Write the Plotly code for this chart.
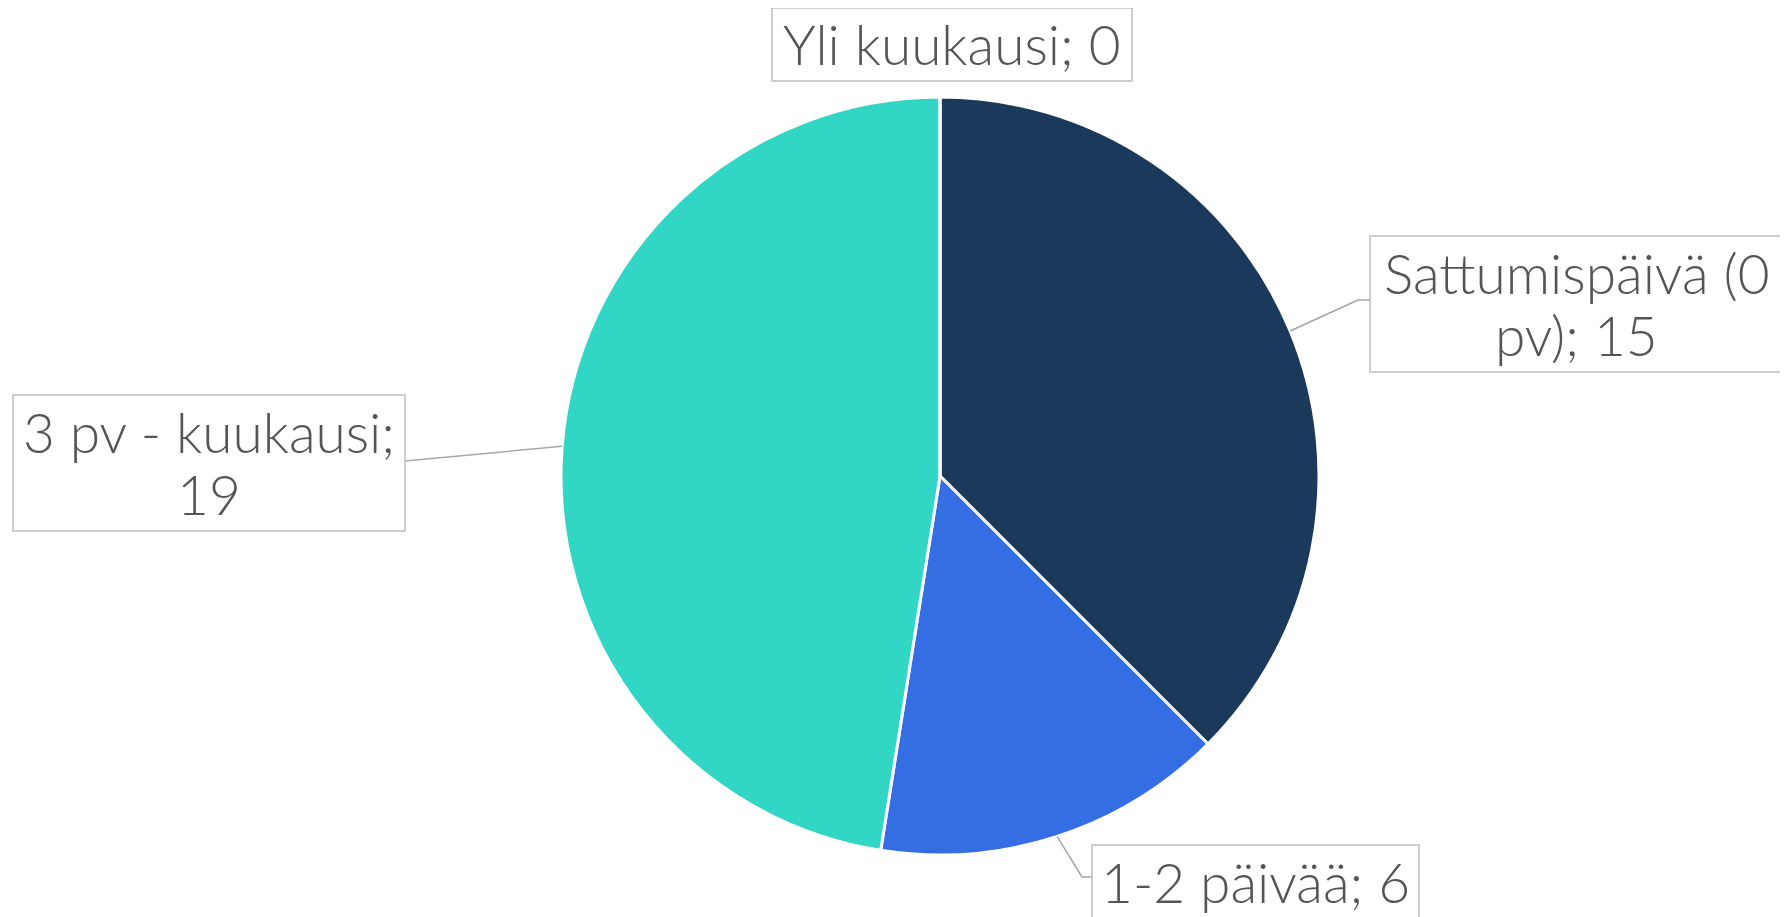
import math
import plotly.graph_objects as go

# Data
categories = ["Sattumispäivä (0 pv)", "1-2 päivää", "3 pv - kuukausi", "Yli kuukausi"]
values = [15, 6, 19, 0]
label_lines = [["Sattumispäivä (0", "pv); 15"], ["1-2 päivää; 6"], ["3 pv - kuukausi;", "19"], ["Yli kuukausi; 0"]]
colors = ["#1B3A5B", "#356EE3", "#31D6C5", "#6FA8DC"]

W, H = 1788, 917
OFF = 8  # page body margin
CX, CY, R = 940 - OFF, 476 - OFF, 379

def px(x):
    return x / W

def py(y):
    return 1 - y / H

fig = go.Figure()
fig.add_trace(go.Pie(
    labels=categories,
    values=values,
    sort=False,
    direction="clockwise",
    rotation=0,
    textinfo="none",
    hoverinfo="label+value",
    marker=dict(colors=colors, line=dict(color="white", width=3)),
    domain=dict(x=[px(CX - R), px(CX + R)], y=[py(CY + R), py(CY - R)]),
    showlegend=False,
))

# label box layout in page px (x0, y0, x1, y1) and leader elbow/end
boxes = [
    dict(box=(1370, 236, 1783, 372), elbow=(1358, 300), end=(1370, 300), cy=304),
    dict(box=(1092, 845, 1419, 925), elbow=(1082, 877), end=(1092, 877), cy=882),
    dict(box=(13, 395, 405, 531), elbow=(405, 461), end=(405, 461), cy=463),
    dict(box=(772, 8, 1132, 81), elbow=None, end=None, cy=44),
]
LINE_H = 62
LINE_C = "#A6A6A6"

total = sum(values)
cum = 0
shapes = []
annotations = []
for i, v in enumerate(values):
    mid = (cum + v / 2) / total * 2 * math.pi
    cum += v
    b = boxes[i]
    if b["elbow"] is not None:
        sx = CX + R * math.sin(mid)
        sy = CY - R * math.cos(mid)
        ex, ey = b["elbow"][0] - OFF, b["elbow"][1] - OFF
        shapes.append(dict(type="line", xref="paper", yref="paper",
                           x0=px(sx), y0=py(sy), x1=px(ex), y1=py(ey),
                           line=dict(color=LINE_C, width=1.5)))
        fx, fy = b["end"][0] - OFF, b["end"][1] - OFF
        if fx != ex:
            shapes.append(dict(type="line", xref="paper", yref="paper",
                               x0=px(ex), y0=py(ey), x1=px(fx), y1=py(fy),
                               line=dict(color=LINE_C, width=1.5)))
    x0, y0, x1, y1 = [c - OFF for c in b["box"]]
    shapes.append(dict(type="rect", xref="paper", yref="paper",
                       x0=px(x0), y0=py(y0), x1=px(x1), y1=py(y1),
                       fillcolor="white", line=dict(color="#BFBFBF", width=1.5)))
    lines = label_lines[i]
    n = len(lines)
    ccx = (x0 + x1) / 2
    ccy = b["cy"] - OFF
    for k, t in enumerate(lines):
        ly = ccy + (k - (n - 1) / 2) * LINE_H
        annotations.append(dict(
            x=px(ccx), y=py(ly), xref="paper", yref="paper",
            xanchor="center", yanchor="middle",
            text=t, showarrow=False,
            font=dict(family="Lato", size=55, color="#555555", weight=300),
        ))

fig.update_layout(
    width=W, height=H,
    margin=dict(l=0, r=0, t=0, b=0),
    paper_bgcolor="white", plot_bgcolor="white",
    shapes=shapes, annotations=annotations,
)

fig.write_html("out.html")
